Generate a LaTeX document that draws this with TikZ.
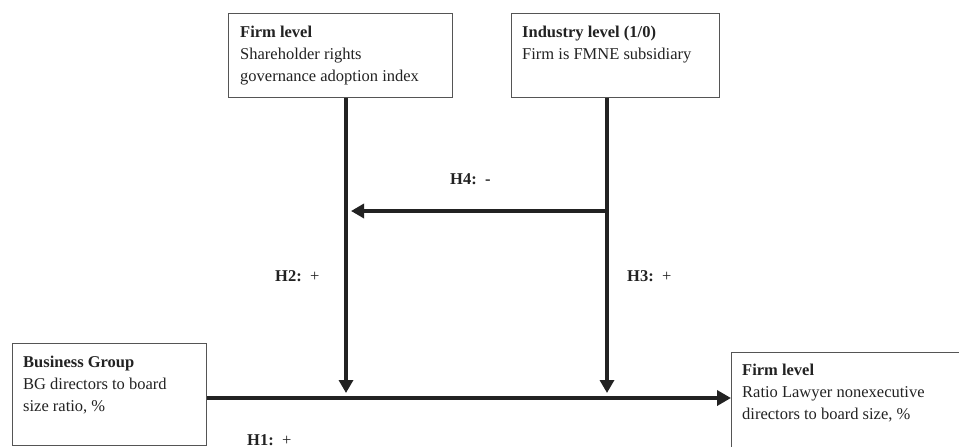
\documentclass[tikz,border=0pt]{standalone}
\usepackage{fontspec}
\setmainfont{Liberation Serif}
\usetikzlibrary{arrows.meta}
\definecolor{ink}{HTML}{222222}
\definecolor{boxline}{HTML}{555555}
\tikzset{
  box/.style={draw=boxline, line width=0.8pt, rectangle, inner sep=0pt, anchor=north west},
  boxtext/.style={inner sep=0pt, anchor=north west, align=left, text=ink, font=\fontsize{16.5}{22}\selectfont},
  hlabel/.style={inner sep=0pt, anchor=base west, text=ink, font=\fontsize{16.5}{18}\selectfont},
  link/.style={draw=ink, line width=3.5pt, -{Triangle[length=13pt,width=14pt]}},
  mainlink/.style={draw=ink, line width=4.5pt, -{Triangle[length=14pt,width=15pt]}},
}
\begin{document}
\begin{tikzpicture}[x=1pt,y=-1pt]
\useasboundingbox (0,0) rectangle (959,447);
\begin{scope}
\clip (0,0) rectangle (959,447);
% boxes
\node[box, minimum width=224pt, minimum height=84pt] (b1) at (228,13) {};
\node[box, minimum width=208pt, minimum height=84pt] (b2) at (511,13) {};
\node[box, minimum width=194pt, minimum height=102pt] (bg) at (12,343) {};
\node[box, minimum width=240pt, minimum height=110pt] (fl) at (731,352) {};
\end{scope}
% texts
\node[boxtext] (t1) at (240,25.5) {\textbf{Firm level}\\Shareholder rights\\governance adoption index};
\node[boxtext] (t2) at (522,25.5) {\textbf{Industry level (1/0)}\\Firm is FMNE subsidiary};
\node[boxtext] (t3) at (23,355.5) {\textbf{Business Group}\\BG directors to board\\size ratio, \%};
\node[boxtext] (t4) at (742,363.5) {\textbf{Firm level}\\Ratio Lawyer nonexecutive\\directors to board size, \%};
% junction coordinates
\coordinate (j1) at (346,393);
\coordinate (j2) at (607,393);
\coordinate (m) at (346,398);
\coordinate (h4s) at (607,211);
\coordinate (h4e) at (351,211);
% connectors
\draw[link] (b1.south -| j1) -- (j1);
\draw[link] (b2.south -| j2) -- (j2);
\draw[link, line width=4pt] (h4s) -- (h4e);
\draw[mainlink] (bg.east |- m) -- (fl.west |- m);
% labels
\node[hlabel] (l4) at (450,184) {\textbf{H4:}\ \ \textbf{-}};
\node[hlabel] (l2) at (275,281) {\textbf{H2:}\ \ +};
\node[hlabel] (l3) at (627,281) {\textbf{H3:}\ \ +};
\node[hlabel] (l1) at (247,445) {\textbf{H1:}\ \ +};
\end{tikzpicture}
\end{document}
